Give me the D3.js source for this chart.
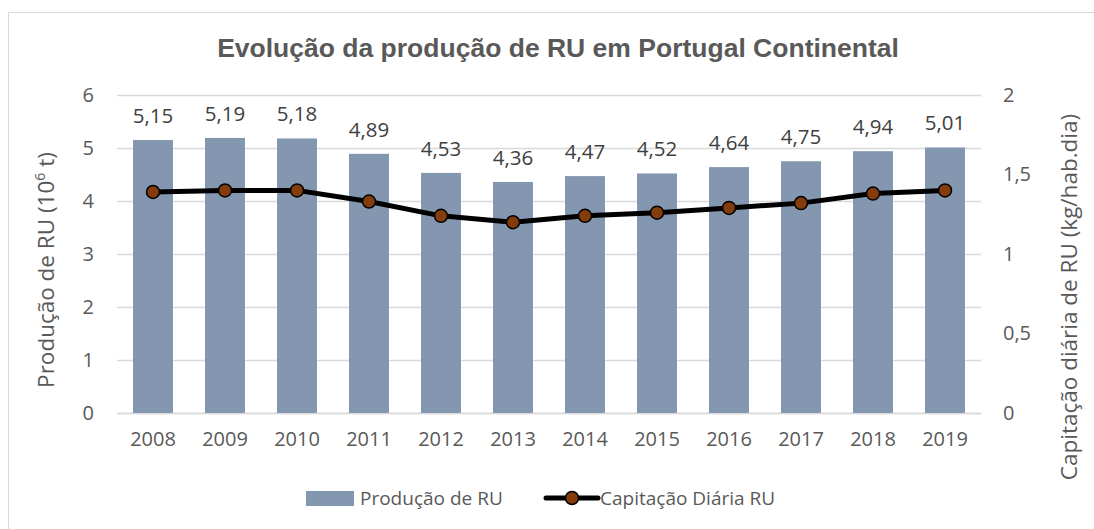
<!DOCTYPE html>
<html><head><meta charset="utf-8">
<script src="https://cdn.jsdelivr.net/npm/d3@7"></script>
<style>
html,body{margin:0;padding:0;background:#fff;}
text{font-family:"Open Sans","Noto Sans",sans-serif;}
text.title{font-family:"Liberation Sans",Arial,sans-serif;font-weight:bold;}
</style></head>
<body>
<svg id="chart" width="1094" height="529"></svg>
<script>
const years = ["2008","2009","2010","2011","2012","2013","2014","2015","2016","2017","2018","2019"];
const producao = [5.15,5.19,5.18,4.89,4.53,4.36,4.47,4.52,4.64,4.75,4.94,5.01];
const capitacao = [1.39,1.40,1.40,1.33,1.24,1.20,1.24,1.26,1.29,1.32,1.38,1.40];
const leftTicks = [0,1,2,3,4,5,6];
const rightTicks = [0,0.5,1,1.5,2];
const title = "Evolução da produção de RU em Portugal Continental";
const legendLabels = ["Produção de RU","Capitação Diária RU"];

const svg = d3.select("#chart");
const W = 1094, H = 529;
const m = {left:117, right:113, top:95, bottom:116};
const pw = W - m.left - m.right, ph = H - m.top - m.bottom;
const fmt = v => String(v).replace(".", ",");

svg.append("rect").attr("x",8.5).attr("y",12.5).attr("width",1100).attr("height",540)
  .attr("fill","#fff").attr("stroke","#d9d9d9").attr("stroke-width",1);

const x = d3.scaleBand().domain(years).range([m.left, m.left+pw]).paddingInner(0.445).paddingOuter(0.2225);
const yL = d3.scaleLinear().domain([0,6]).range([m.top+ph, m.top]);
const yR = d3.scaleLinear().domain([0,2]).range([m.top+ph, m.top]);

// gridlines
svg.append("g").selectAll("line").data(leftTicks).join("line")
  .attr("x1",m.left).attr("x2",m.left+pw)
  .attr("y1",d=>yL(d)+0.5).attr("y2",d=>yL(d)+0.5)
  .attr("stroke","#d9d9d9").attr("stroke-width",1.5);

// left axis
const axL = svg.append("g").attr("transform",`translate(${m.left},0)`)
  .call(d3.axisLeft(yL).tickValues(leftTicks).tickFormat(fmt).tickSize(0).tickPadding(23));
axL.select(".domain").remove();
axL.selectAll("text").attr("font-size",20).attr("fill","#595959");

// right axis
const axR = svg.append("g").attr("transform",`translate(${m.left+pw},0)`)
  .call(d3.axisRight(yR).tickValues(rightTicks).tickFormat(fmt).tickSize(0).tickPadding(22));
axR.select(".domain").remove();
axR.selectAll("text").attr("font-size",20).attr("fill","#595959");

// bottom axis
const axB = svg.append("g").attr("transform",`translate(0,${m.top+ph})`)
  .call(d3.axisBottom(x).tickSize(0).tickPadding(19));
axB.select(".domain").attr("stroke","#d9d9d9").attr("stroke-width",1.5);
axB.selectAll("text").attr("font-size",20).attr("fill","#595959");

// bars
svg.append("g").selectAll("rect").data(years).join("rect")
  .attr("x",d=>x(d)).attr("width",x.bandwidth())
  .attr("y",(d,i)=>yL(producao[i])).attr("height",(d,i)=>yL(0)-yL(producao[i]))
  .attr("fill","#8497B0");

// data labels
svg.append("g").selectAll("text").data(years).join("text")
  .attr("x",d=>x(d)+x.bandwidth()/2).attr("y",(d,i)=>yL(producao[i])-17)
  .attr("text-anchor","middle").attr("font-size",20.5).attr("fill","#404040")
  .text((d,i)=>producao[i].toFixed(2).replace(".",","));

// line
const line = d3.line().x((d,i)=>x(years[i])+x.bandwidth()/2).y(d=>yR(d));
svg.append("path").datum(capitacao).attr("d",line).attr("fill","none")
  .attr("stroke","#000").attr("stroke-width",5).attr("stroke-linejoin","round");
svg.append("g").selectAll("circle").data(capitacao).join("circle")
  .attr("cx",(d,i)=>x(years[i])+x.bandwidth()/2).attr("cy",d=>yR(d)).attr("r",6.5)
  .attr("fill","#843C0C").attr("stroke","#000").attr("stroke-width",1.5);

// title
svg.append("text").attr("class","title").attr("x",558).attr("y",57).attr("text-anchor","middle")
  .attr("font-size",26.5).attr("fill","#595959").text(title);

// axis titles
const lt = svg.append("text").attr("transform","translate(54,270) rotate(-90)").attr("text-anchor","middle")
  .attr("font-size",22.5).attr("fill","#595959");
lt.append("tspan").text("Produção de RU (10");
lt.append("tspan").attr("baseline-shift","super").attr("font-size",14).text("6");
lt.append("tspan").text(" t)");

svg.append("text").attr("transform","translate(1077,297) rotate(-90)").attr("text-anchor","middle")
  .attr("font-size",22.5).attr("fill","#595959").text("Capitação diária de RU (kg/hab.dia)");

// legend
const lg = svg.append("g");
lg.append("rect").attr("x",306).attr("y",491).attr("width",48).attr("height",15).attr("fill","#8497B0");
lg.append("text").attr("x",360).attr("y",505).attr("font-size",19).attr("fill","#595959").text(legendLabels[0]);
lg.append("line").attr("x1",546).attr("x2",598).attr("y1",498).attr("y2",498).attr("stroke","#000").attr("stroke-width",5).attr("stroke-linecap","round");
lg.append("circle").attr("cx",572).attr("cy",498).attr("r",6.5).attr("fill","#843C0C").attr("stroke","#000").attr("stroke-width",1.5);
lg.append("text").attr("x",600).attr("y",505).attr("font-size",19).attr("fill","#595959").text(legendLabels[1]);
</script>
</body></html>
